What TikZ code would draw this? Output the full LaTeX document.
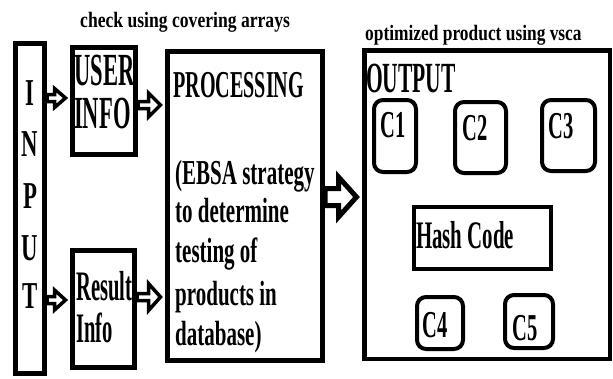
\documentclass[tikz,border=0pt]{standalone}
\usepackage{fontspec}
\setmainfont{Liberation Serif}
\usetikzlibrary{calc}
\newcommand{\sq}[3]{\fontsize{#2}{#2}\selectfont\bfseries\scalebox{#1}[1]{#3}}
\begin{document}
\begin{tikzpicture}[x=1pt,y=-1pt,
  box/.style={draw, line width=5pt, inner sep=0pt},
  cbox/.style={draw, line width=4pt, rounded corners=9pt, inner sep=0pt},
  txt/.style={anchor=base west, inner sep=0pt},
  ctxt/.style={anchor=base, inner sep=0pt},
  blockarrow/.style n args={3}{draw=black, fill=white, line width=3.5pt, line join=miter, miter limit=6,
    to path={let \p1=(\tikztostart), \p2=(\tikztotarget) in
      (\x1,\y1+#1pt) -- (\x2-#3pt,\y1+#1pt) -- (\x2-#3pt,\y1+#2pt) -- (\x2,\y1)
      -- (\x2-#3pt,\y1-#2pt) -- (\x2-#3pt,\y1-#1pt) -- (\x1,\y1-#1pt) -- cycle}}]
\fill[white] (0,0) rectangle (613,378);
\useasboundingbox (0,0) rectangle (613,378);

% titles
\node[txt] (t1) at (80,27) {\sq{0.8}{22}{check using covering arrays}};
\node[txt] (t2) at (365,40) {\sq{0.79}{22}{optimized product using vsca}};

% boxes
\node[box, minimum width=29pt, minimum height=330pt] (in) at (30,208.5) {};
\node[box, minimum width=63pt, minimum height=107pt] (user) at (104,101) {};
\node[box, minimum width=62pt, minimum height=117pt] (res) at (103.5,309) {};
\node[box, minimum width=155pt, minimum height=309pt] (proc) at (245,206) {};
\node[box, line width=4.5pt, minimum width=245.5pt, minimum height=308.5pt] (out) at (487,204.5) {};
\node[cbox, minimum width=42pt, minimum height=72pt] (c1) at (395,136) {};
\node[cbox, minimum width=51pt, minimum height=71pt] (c2) at (480.5,137.5) {};
\node[cbox, minimum width=53pt, minimum height=71pt] (c3) at (568.5,135.5) {};
\node[box, line width=4pt, minimum width=137pt, minimum height=62pt] (hash) at (482.5,238) {};
\node[cbox, minimum width=46pt, minimum height=52pt] (c4) at (440,323) {};
\node[cbox, minimum width=48pt, minimum height=53pt] (c5) at (529,321.5) {};

% INPUT letters
\node[ctxt] (iI) at (30,105) {\sq{0.6}{38}{I}};
\node[ctxt] (iN) at (30,156) {\sq{0.6}{38}{N}};
\node[ctxt] (iP) at (30,208) {\sq{0.6}{38}{P}};
\node[ctxt] (iU) at (30,260) {\sq{0.6}{38}{U}};
\node[ctxt] (iT) at (30,308) {\sq{0.6}{38}{T}};

% user info / result info
\node[txt] (uA) at (74,85) {\sq{0.49}{46}{USER}};
\node[txt] (uB) at (74,128) {\sq{0.49}{46}{INFO}};
\node[txt] (rA) at (76,300) {\sq{0.49}{42}{Result}};
\node[txt] (rB) at (76,342) {\sq{0.49}{42}{Info}};

% processing
\node[txt] (pA) at (173,97) {\sq{0.53}{38}{PROCESSING}};
\node[txt] (pB) at (175,184) {\sq{0.6}{35}{(EBSA strategy}};
\node[txt] (pC) at (175,222) {\sq{0.6}{35}{to determine}};
\node[txt] (pD) at (175,262) {\sq{0.6}{35}{testing of}};
\node[txt] (pE) at (175,305) {\sq{0.6}{35}{products in}};
\node[txt] (pF) at (175,345) {\sq{0.6}{35}{database)}};

% output
\node[txt] (oA) at (366,92) {\sq{0.5}{43}{OUTPUT}};
\node[txt] (l1) at (380,137) {\sq{0.54}{38}{C1}};
\node[txt] (l2) at (462,140) {\sq{0.54}{38}{C2}};
\node[txt] (l3) at (548,138) {\sq{0.54}{38}{C3}};
\node[txt] (lh) at (416,248) {\sq{0.535}{39}{Hash Code}};
\node[txt] (l4) at (422,337) {\sq{0.54}{38}{C4}};
\node[txt] (l5) at (512,340) {\sq{0.54}{38}{C5}};

% arrows
\draw[blockarrow={3.5}{9.5}{11}] (in.east |- 0,98) to ([xshift=-4.5pt]user.west |- 0,98);
\draw[blockarrow={3.5}{12}{12}] (user.east |- 0,105) to ([xshift=-4.5pt]proc.west |- 0,105);
\draw[blockarrow={3.5}{10}{11}] (in.east |- 0,300) to ([xshift=-4.5pt]res.west |- 0,300);
\draw[blockarrow={3.5}{13.5}{12}] (res.east |- 0,297) to ([xshift=-4.5pt]proc.west |- 0,297);
\draw[blockarrow={8.5}{20}{18}, line width=5pt] (proc.east |- 0,197) to ([xshift=-5.5pt]out.west |- 0,197);
\end{tikzpicture}
\end{document}
